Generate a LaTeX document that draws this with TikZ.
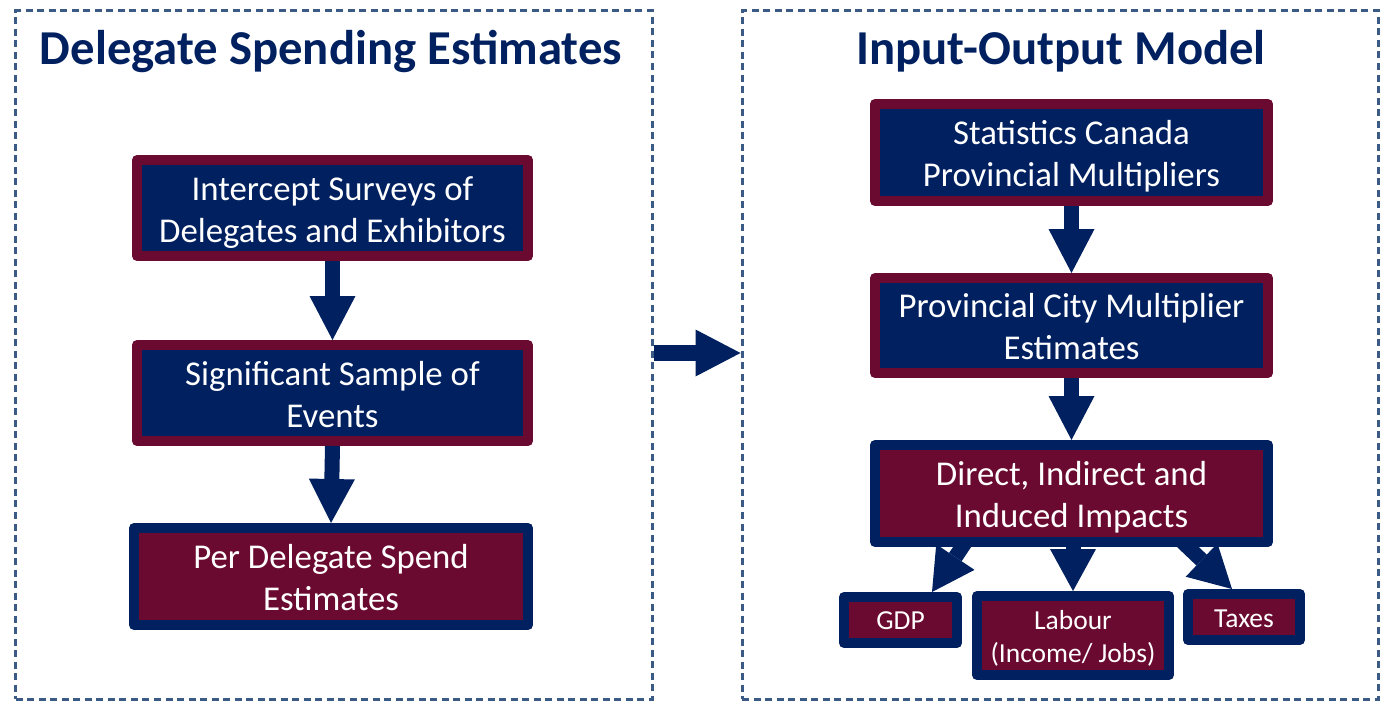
\documentclass[tikz,border=0pt]{standalone}
\usepackage{fontspec}
\setmainfont{Carlito}
\usetikzlibrary{arrows.meta,calc,backgrounds}
\definecolor{navy}{HTML}{002060}
\definecolor{maroon}{HTML}{6B0A30}
\definecolor{frameblue}{HTML}{3B5A85}
% stacked, centred lines inside a box
\newcommand{\boxlines}[1]{\begin{tabular}{@{}c@{}}#1\end{tabular}}
\begin{document}
\begin{tikzpicture}[x=1bp,y=-1bp,
  frame/.style={draw=frameblue, line width=3bp, dash pattern=on 7bp off 4.5bp,
    inner sep=0pt, minimum width=636bp, minimum height=688bp},
  title/.style={text=navy, font=\fontsize{48.7bp}{58bp}\selectfont\bfseries,
    anchor=base, inner sep=0pt},
  box/.style={rectangle, line width=10bp, line join=round, text=white,
    inner sep=0pt, text height=50bp, text depth=28bp,
    font=\fontsize{34.8bp}{42bp}\selectfont},
  bluebox/.style={box, draw=maroon, fill=navy},
  redbox/.style={box, draw=navy, fill=maroon},
  smallbox/.style={redbox, text height=30bp, text depth=11bp,
    font=\fontsize{27.5bp}{33bp}\selectfont},
  bigarrow/.style={draw=navy, line width=16bp,
    -{Triangle[length=45bp,width=47bp,line width=0pt]}},
  downarrow/.style={draw=navy, line width=15bp,
    -{Triangle[length=44bp,width=46bp,line width=0pt]}},
  splitarrow/.style={draw=navy, line width=15bp,
    -{Triangle[length=42bp,width=46bp,line width=0pt]}},
]
\useasboundingbox (0,0) rectangle (1382,702);

% dashed panels
\node[frame] (lf) at (334,355) {};
\node[frame] (rf) at (1060,355) {};

% panel titles
\node[title] (t1) at (331,65) {Delegate Spending Estimates};
\node[title] (t2) at (1061,65) {Input-Output Model};

% left column
\node[bluebox, minimum width=391bp, minimum height=96bp] (b1) at (332.5,208)
  {\boxlines{Intercept Surveys of\\Delegates and Exhibitors}};
\node[bluebox, minimum width=391bp, minimum height=96bp] (b2) at (332.5,393)
  {\boxlines{Significant Sample of\\Events}};
\node[redbox, minimum width=394bp, minimum height=97bp] (b3) at (331,576.5)
  {\boxlines{Per Delegate Spend\\Estimates}};

% right column
\node[bluebox, minimum width=393bp, minimum height=97bp] (sc) at (1071.5,152.5)
  {\boxlines{Statistics Canada\\Provincial Multipliers}};
\node[bluebox, minimum width=393bp, minimum height=95bp] (pc) at (1071.5,325.5)
  {\boxlines{Provincial City Multiplier\\Estimates}};
\node[redbox, minimum width=393bp, minimum height=97bp] (imp) at (1071.5,493.5)
  {\boxlines{Direct, Indirect and\\Induced Impacts}};

\node[smallbox, minimum width=113bp, minimum height=46bp] (gdp) at (900.5,620)
  {\boxlines{GDP}};
\node[smallbox, minimum width=192bp, minimum height=79bp, text height=31bp, text depth=11bp] (lab) at (1073,635.5)
  {\boxlines{Labour\\(Income/ Jobs)}};
\node[smallbox, minimum width=112bp, minimum height=46bp, text height=31bp, text depth=11bp] (tax) at (1244,617)
  {\boxlines{Taxes}};

% flow arrows
\draw[downarrow] (b1.south) -- (b2.north);
\draw[downarrow] (b2.south) -- (b3.north);
\draw[downarrow] (sc.south) -- (pc.north);
\draw[downarrow] (pc.south) -- (imp.north);
\draw[bigarrow] (lf.east |- 0,353) -- (rf.west |- 0,353);

\begin{scope}[on background layer]
  \draw[splitarrow] ($(imp.south)+(-84,-38)$) -- ($(gdp.north)+(31.5,0)$);
  \draw[splitarrow] (lab.north |- imp.south) -- (lab.north);
  \draw[splitarrow] ($(imp.south)+(88,-27)$) -- ($(tax.north)+(-12,0)$);
\end{scope}
\end{tikzpicture}
\end{document}
